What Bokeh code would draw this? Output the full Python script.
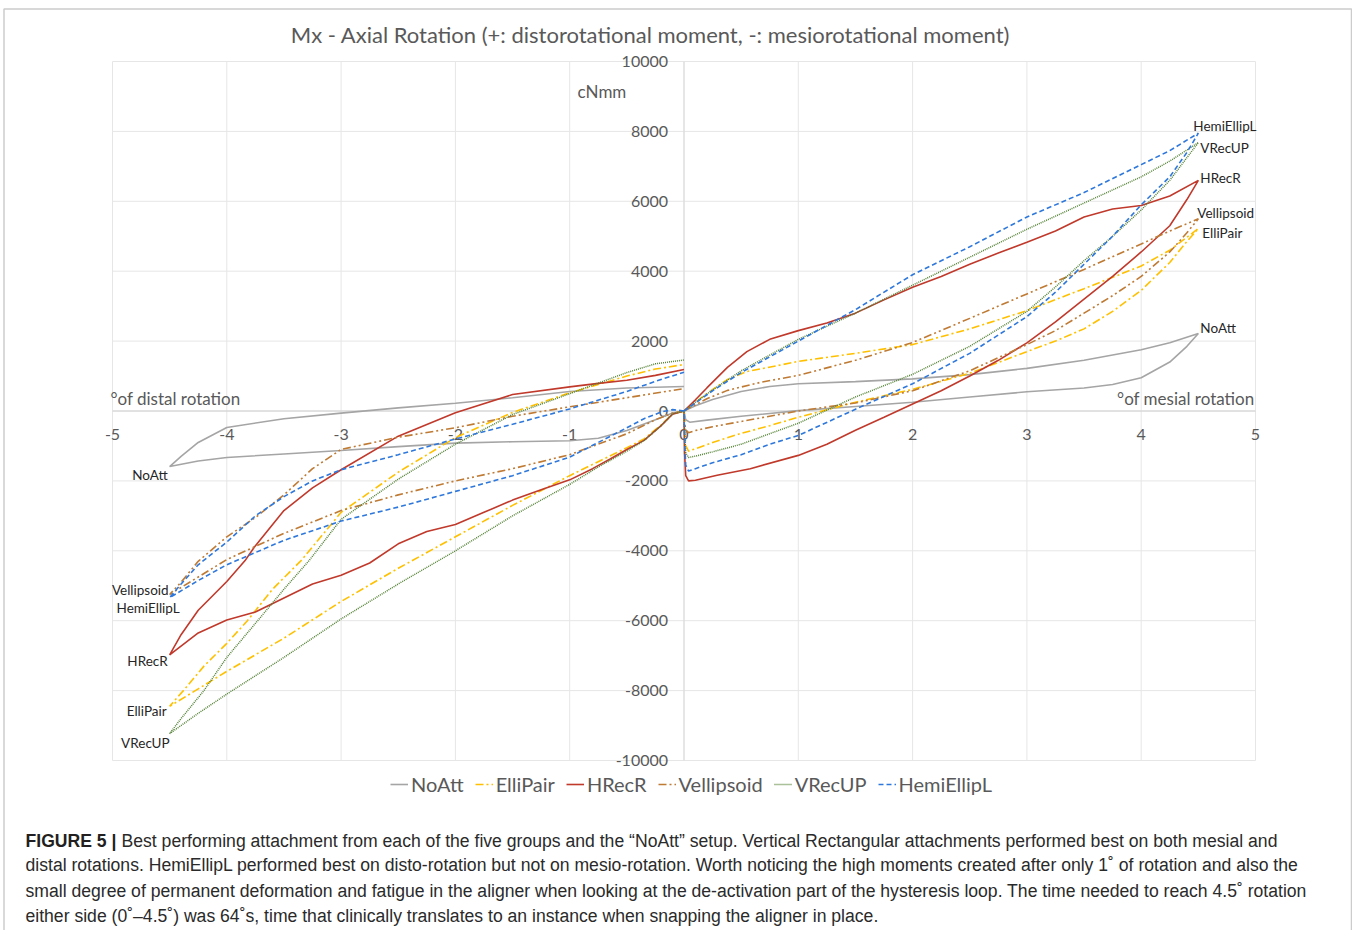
from bokeh.plotting import figure
from bokeh.models import Range1d, Label, Legend, LegendItem, PolyAnnotation
from bokeh.core.properties import value
from bokeh.embed import file_html
from bokeh.resources import INLINE

# ---------------- data ----------------
x_ticks = [-5, -4, -3, -2, -1, 0, 1, 2, 3, 4, 5]
x_tick_labels = ["-5", "-4", "-3", "-2", "-1", "0", "1", "2", "3", "4", "5"]
y_ticks = [-10000, -8000, -6000, -4000, -2000, 0, 2000, 4000, 6000, 8000, 10000]
y_tick_labels = ["-10000", "-8000", "-6000", "-4000", "-2000", "0", "2000", "4000", "6000", "8000", "10000"]

series_names = ["NoAtt", "ElliPair", "HRecR", "Vellipsoid", "VRecUP", "HemiEllipL"]

noatt_neg_x = [0, -0.1, -0.25, -0.5, -0.75, -1, -1.5, -2, -2.5, -3, -3.5, -4, -4.25, -4.5,
               -4.4, -4.25, -4, -3.5, -3, -2.5, -2, -1.5, -1, -0.5, 0]
noatt_neg_y = [0, -60, -250, -560, -780, -850, -880, -920, -1020, -1130, -1230, -1330, -1430, -1590,
               -1300, -900, -470, -220, -60, 90, 220, 380, 560, 660, 700]
noatt_pos_x = [0, 0.1, 0.25, 0.5, 0.75, 1, 1.5, 2, 2.5, 3, 3.5, 4, 4.25, 4.5,
               4.4, 4.25, 4, 3.75, 3.5, 3, 2.5, 2, 1.5, 1, 0.5, 0.2, 0.05, 0.015, 0]
noatt_pos_y = [0, 150, 330, 560, 700, 780, 840, 920, 1040, 1220, 1450, 1750, 1950, 2220,
               1850, 1400, 950, 760, 660, 550, 400, 250, 130, 10, -150, -260, -320, -250, 0]

ellipair_neg_x = [0, -0.1, -0.2, -0.35, -0.5, -0.75, -1, -1.5, -2, -2.5, -3, -3.5, -4, -4.25, -4.5,
                  -4.38, -4.2, -4, -3.82, -3.6, -3.35, -3, -2.5, -2, -1.5, -1, -0.5, -0.25, 0]
ellipair_neg_y = [0, -80, -400, -800, -1050, -1450, -1850, -2700, -3600, -4500, -5450, -6500, -7450, -7950, -8450,
                  -8000, -7300, -6650, -6000, -5100, -4280, -2900, -1750, -760, -40, 520, 1000, 1200, 1330]
ellipair_pos_x = [0, 0.1, 0.2, 0.38, 0.55, 0.82, 1, 1.5, 2, 2.5, 3, 3.5, 4, 4.25, 4.5,
                  4.4, 4.25, 4, 3.75, 3.5, 3.25, 3, 2.5, 2, 1.5, 1, 0.75, 0.5, 0.25, 0.1, 0.04, 0.015, 0.005, 0]
ellipair_pos_y = [0, 250, 500, 900, 1130, 1300, 1420, 1650, 1900, 2350, 2870, 3500, 4150, 4600, 5220,
                  4850, 4250, 3450, 2850, 2350, 2000, 1700, 1080, 620, 250, -180, -420, -640, -900, -1080, -1150, -1000, -500, 0]

hrecr_neg_x = [0, -0.1, -0.2, -0.35, -0.5, -0.65, -0.8, -1, -1.25, -1.5, -1.75, -2, -2.25, -2.5, -2.75, -3, -3.25,
               -3.5, -3.75, -4, -4.25, -4.5,
               -4.4, -4.25, -4, -3.84, -3.76, -3.5, -3.25, -3, -2.5, -2, -1.5, -1, -0.75, -0.5, -0.25, 0]
hrecr_neg_y = [0, -90, -420, -840, -1100, -1380, -1650, -1970, -2250, -2550, -2900, -3250, -3450, -3800, -4350, -4700, -4950,
               -5350, -5750, -5980, -6350, -6980,
               -6400, -5700, -4880, -4280, -3900, -2850, -2200, -1680, -720, -50, 470, 690, 790, 880, 1020, 1190]
hrecr_pos_x = [0, 0.1, 0.2, 0.38, 0.55, 0.75, 1, 1.25, 1.5, 1.75, 2, 2.25, 2.5, 2.75, 3, 3.25, 3.5, 3.75, 4, 4.25, 4.5,
               4.4, 4.25, 4, 3.75, 3.5, 3.25, 3, 2.75, 2.5, 2.25, 2, 1.75, 1.5, 1.25, 1, 0.58, 0.29, 0.1, 0.04, 0.015, 0.005, 0]
hrecr_pos_y = [0, 320, 660, 1250, 1700, 2050, 2300, 2520, 2800, 3180, 3540, 3850, 4200, 4520, 4830, 5150, 5550, 5780, 5880, 6150, 6600,
               6050, 5300, 4550, 3850, 3200, 2550, 1950, 1450, 1000, 580, 200, -180, -550, -950, -1270, -1650, -1840, -1980, -2000, -1850, -1200, 0]

vellipsoid_neg_x = [0, -0.1, -0.25, -0.5, -0.75, -1, -1.5, -2, -2.5, -3, -3.5, -4, -4.25, -4.5,
                    -4.4, -4.25, -4, -3.75, -3.5, -3.25, -3, -2.5, -2, -1.5, -1, -0.5, 0]
vellipsoid_neg_y = [0, -60, -250, -650, -950, -1250, -1650, -2000, -2400, -2850, -3500, -4250, -4750, -5250,
                    -4900, -4300, -3600, -3050, -2400, -1650, -1100, -750, -480, -150, 120, 380, 640]
vellipsoid_pos_x = [0, 0.1, 0.2, 0.38, 0.67, 1, 1.5, 2, 2.5, 3, 3.5, 4, 4.25, 4.5,
                    4.4, 4.25, 4, 3.75, 3.5, 3.25, 3, 2.5, 2, 1.5, 1, 0.5, 0.25, 0.1, 0.04, 0.015, 0.005, 0]
vellipsoid_pos_y = [0, 180, 350, 590, 820, 1020, 1450, 1960, 2650, 3350, 4050, 4780, 5150, 5500,
                    5100, 4550, 3850, 3300, 2800, 2300, 1900, 1150, 580, 230, 0, -300, -450, -560, -620, -550, -300, 0]

vrecup_neg_x = [0, -0.1, -0.2, -0.35, -0.5, -0.75, -1, -1.5, -2, -2.5, -3, -3.5, -4, -4.25, -4.5,
                -4.4, -4.2, -4, -3.73, -3.5, -3.28, -3, -2.5, -2, -1.5, -1.08, -0.79, -0.5, -0.25, 0]
vrecup_neg_y = [0, -80, -420, -850, -1150, -1600, -2100, -3000, -4000, -4950, -5950, -7050, -8100, -8650, -9230,
                -8800, -8000, -7050, -6000, -5100, -4280, -3100, -1950, -950, -100, 400, 750, 1100, 1350, 1460]
vrecup_pos_x = [0, 0.1, 0.25, 0.5, 0.75, 1, 1.5, 2, 2.5, 3, 3.5, 4, 4.25, 4.5,
                4.4, 4.25, 4, 3.75, 3.5, 3.25, 3, 2.5, 2, 1.5, 1, 0.75, 0.5, 0.25, 0.1, 0.04, 0.015, 0.005, 0]
vrecup_pos_y = [0, 250, 600, 1150, 1600, 2050, 2800, 3600, 4400, 5200, 5950, 6700, 7150, 7680,
                7250, 6600, 5750, 5000, 4300, 3550, 2850, 1850, 1050, 400, -350, -650, -950, -1170, -1290, -1330, -1200, -600, 0]

hemiellipl_neg_x = [0, -0.1, -0.2, -0.35, -0.5, -0.75, -1, -1.5, -2, -2.5, -3, -3.5, -4, -4.25, -4.5,
                    -4.4, -4.25, -4, -3.75, -3.5, -3.25, -3, -2.5, -2, -1.5, -1, -0.5, -0.25, 0]
hemiellipl_neg_y = [0, 40, -30, -220, -480, -900, -1320, -1850, -2300, -2750, -3150, -3700, -4400, -4850, -5340,
                    -4950, -4400, -3750, -3000, -2450, -2000, -1680, -1250, -800, -380, 60, 560, 850, 1110]
hemiellipl_pos_x = [0, 0.1, 0.25, 0.5, 0.75, 1, 1.5, 2, 2.5, 3, 3.5, 4, 4.25, 4.5,
                    4.4, 4.25, 4, 3.75, 3.5, 3.25, 3, 2.5, 2, 1.5, 1, 0.75, 0.5, 0.25, 0.1, 0.04, 0.015, 0.005, 0]
hemiellipl_pos_y = [0, 230, 580, 1100, 1550, 2000, 2900, 3900, 4700, 5550, 6250, 7050, 7450, 7950,
                    7400, 6700, 5900, 5000, 4200, 3400, 2700, 1650, 780, 50, -700, -950, -1250, -1480, -1650, -1720, -1550, -800, 0]

# ---------------- styles ----------------
styles = {
    "NoAtt": dict(color="#A5A5A5", dash="solid", width=1.6),
    "ElliPair": dict(color="#FFC000", dash="8 3 2 3", width=1.6),
    "HRecR": dict(color="#C0392B", dash="solid", width=1.6),
    "Vellipsoid": dict(color="#BF7A34", dash="8 3 2 3 2 3", width=1.6),
    "VRecUP": dict(color="#548235", dash="1 1", width=1.5),
    "HemiEllipL": dict(color="#2F78DB", dash="5 3", width=1.6),
}
data = {
    "NoAtt": (noatt_neg_x, noatt_neg_y, noatt_pos_x, noatt_pos_y),
    "ElliPair": (ellipair_neg_x, ellipair_neg_y, ellipair_pos_x, ellipair_pos_y),
    "HRecR": (hrecr_neg_x, hrecr_neg_y, hrecr_pos_x, hrecr_pos_y),
    "Vellipsoid": (vellipsoid_neg_x, vellipsoid_neg_y, vellipsoid_pos_x, vellipsoid_pos_y),
    "VRecUP": (vrecup_neg_x, vrecup_neg_y, vrecup_pos_x, vrecup_pos_y),
    "HemiEllipL": (hemiellipl_neg_x, hemiellipl_neg_y, hemiellipl_pos_x, hemiellipl_pos_y),
}

FONT = "Lato"
GREY = "#595959"

# ---------------- layout: the frame fills the whole canvas ----------------
W, H = 1352, 930
PL, PR, PT, PB = 112, 1255, 61, 760          # plot-area pixel edges inside the canvas
XMIN, XMAX, YMIN, YMAX = -5, 5, -10000, 10000
sx = (XMAX - XMIN) / (PR - PL)
sy = (YMAX - YMIN) / (PB - PT)
x_range = Range1d(XMIN - PL * sx, XMAX + (W - PR) * sx)
y_range = Range1d(YMIN - (H - PB) * sy, YMAX + PT * sy)

p = figure(width=W, height=H, x_range=x_range, y_range=y_range,
           x_axis_location=None, y_axis_location=None,
           min_border=0, output_backend="svg", toolbar_location=None)
p.outline_line_color = None
p.xgrid.visible = False
p.ygrid.visible = False
p.background_fill_color = "white"
p.border_fill_color = "white"

# grid lines of the plot area
p.segment(x0=x_ticks, y0=[YMIN] * len(x_ticks), x1=x_ticks, y1=[YMAX] * len(x_ticks),
          line_color="#E6E6E6", line_width=1)
p.segment(x0=[XMIN] * len(y_ticks), y0=y_ticks, x1=[XMAX] * len(y_ticks), y1=y_ticks,
          line_color="#E6E6E6", line_width=1)
p.segment(x0=[XMIN], y0=[0], x1=[XMAX], y1=[0], line_color="#D0D0D0", line_width=1)
p.segment(x0=[0], y0=[YMIN], x1=[0], y1=[YMAX], line_color="#D9D9D9", line_width=1)

# tick labels
p.text(x=[0] * len(y_ticks), y=y_ticks, text=y_tick_labels, x_offset=-16,
       text_align="right", text_baseline="middle", text_font=value(FONT),
       text_font_size="16px", text_color=GREY)
p.text(x=x_ticks, y=[0] * len(x_ticks), text=x_tick_labels, y_offset=23,
       text_align="center", text_baseline="middle", text_font=value(FONT),
       text_font_size="16px", text_color=GREY)

# curves
legend_items = []
for name in series_names:
    st = styles[name]
    nx, ny, px_, py_ = data[name]
    r1 = p.line(nx, ny, line_color=st["color"], line_dash=st["dash"], line_width=st["width"])
    p.line(px_, py_, line_color=st["color"], line_dash=st["dash"], line_width=st["width"])
    legend_items.append(LegendItem(label=name, renderers=[r1]))

# data labels at the loop tips
right_off = {"HemiEllipL": (-5, -7), "VRecUP": (2, 5), "HRecR": (2, -2),
             "Vellipsoid": (-1, -6), "ElliPair": (4, 4), "NoAtt": (2, -5)}
left_off = {"NoAtt": (-2, 8), "Vellipsoid": (-1, -4), "HemiEllipL": (10, 10),
            "HRecR": (-2, 6), "ElliPair": (-3, 5), "VRecUP": (0, 9)}
for name in series_names:
    nx, ny, px_, py_ = data[name]
    i_max = px_.index(max(px_))
    i_min = nx.index(min(nx))
    ox, oy = right_off[name]
    p.text(x=[px_[i_max]], y=[py_[i_max]], text=[name], x_offset=ox, y_offset=oy,
           text_align="left", text_baseline="middle", text_font=value(FONT),
           text_font_size="13.5px", text_color="#262626")
    ox, oy = left_off[name]
    p.text(x=[nx[i_min]], y=[ny[i_min]], text=[name], x_offset=ox, y_offset=oy,
           text_align="right", text_baseline="middle", text_font=value(FONT),
           text_font_size="13.5px", text_color="#262626")

# title & axis captions (screen units: from canvas left / canvas bottom)
def lab(x, y, text, align, size, font=FONT, color=GREY, style="normal"):
    p.add_layout(Label(x=x, y=H - y, x_units="screen", y_units="screen", text=text,
                       text_align=align, text_baseline="middle", text_font=font,
                       text_font_style=style, text_font_size=size, text_color=color))

lab(650, 34, "Mx - Axial Rotation (+: distorotational moment, -: mesiorotational moment)", "center", "22px")
lab(110, 398, "°of distal rotation", "left", "17px")
lab(1254, 398, "°of mesial rotation", "right", "17px")
lab(577, 91, "cNmm", "left", "17px")

legend = Legend(items=legend_items, orientation="horizontal", location=(390, H - 796),
                glyph_width=18, glyph_height=18, label_standoff=3, spacing=11,
                padding=0, margin=0, border_line_color=None, background_fill_alpha=0,
                label_text_font=FONT, label_text_font_size="20px", label_text_color=GREY)
p.add_layout(legend)

# caption
CAP_FONT = "Liberation Sans"
cap_lines = [
    "Best performing attachment from each of the five groups and the \u201cNoAtt\u201d setup. Vertical Rectangular attachments performed best on both mesial and",
    "distal rotations. HemiEllipL performed best on disto-rotation but not on mesio-rotation. Worth noticing the high moments created after only 1\u02da of rotation and also the",
    "small degree of permanent deformation and fatigue in the aligner when looking at the de-activation part of the hysteresis loop. The time needed to reach 4.5\u02da rotation",
    "either side (0\u02da\u20134.5\u02da) was 64\u02das, time that clinically translates to an instance when snapping the aligner in place.",
]
cap_y = [840, 864, 890, 915]
cap_x = [121, 25, 25, 25]
lab(25, cap_y[0], "FIGURE 5 |", "left", "17.6px", CAP_FONT, "#231F20", "bold")
for t, yy, xx in zip(cap_lines, cap_y, cap_x):
    lab(xx, yy, t, "left", "17.6px", CAP_FONT, "#2A2A2A")

# outer figure frame
p.add_layout(PolyAnnotation(xs=[3.5, W - 1, W - 1, 3.5], ys=[-20, -20, H - 8.5, H - 8.5],
                            xs_units="screen", ys_units="screen", fill_alpha=0,
                            line_color="#555555", line_width=1.5))

open("out.html", "w").write(file_html(p, INLINE))
